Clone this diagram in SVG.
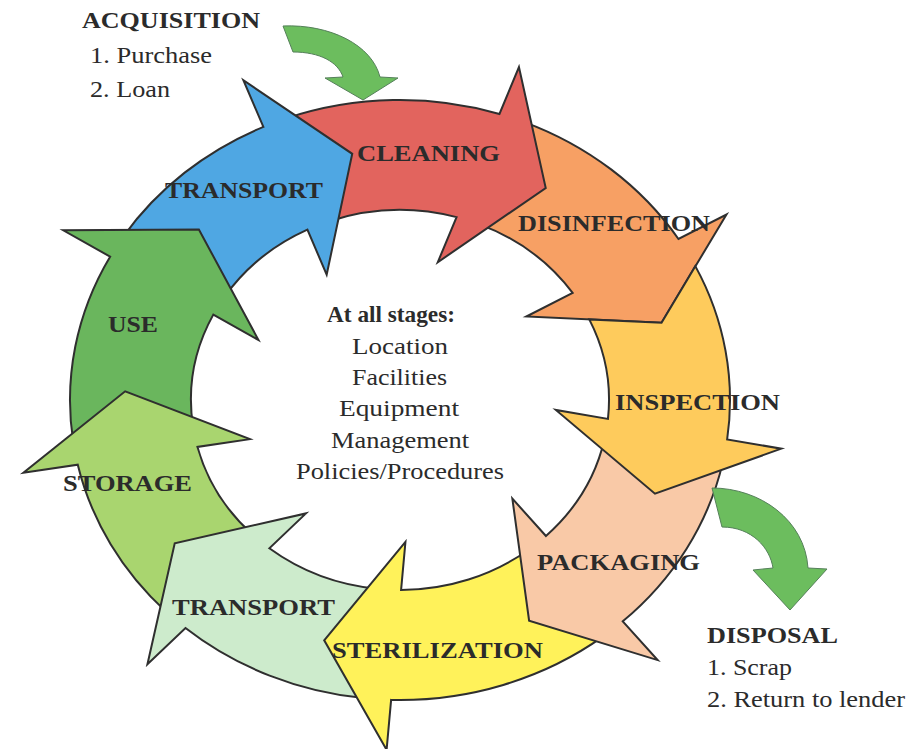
<svg xmlns="http://www.w3.org/2000/svg" width="910" height="749" viewBox="0 0 910 749">
  <style>
    .seg { stroke: #2f2f2f; stroke-width: 2; stroke-linejoin: miter; stroke-miterlimit: 10; vector-effect: non-scaling-stroke; }
    .lbl { font-family: "Liberation Serif", "Times New Roman", serif; font-weight: bold; font-size: 24px; fill: #2b2b2b; }
    .txt { font-family: "Liberation Serif", "Times New Roman", serif; font-size: 24px; fill: #2b2b2b; }
    .flow { fill: #6cbd5e; stroke: #55805a; stroke-width: 1; }
  </style>
  <rect width="910" height="749" fill="#ffffff"/>

  <!-- Ring of stage arrows: each path is drawn in a local polar frame whose tip sits at angle 0,
       then rotated into place; the whole ring is stretched 1.1x horizontally. -->
  <g id="disinfection">
    <path class="seg" fill="#f7a064" transform="translate(400 400) scale(1.1 1) rotate(342)"
      d="M192.84,-229.81 A300,300 0 0 1 290.5,-74.9 L339.6,-84.7 L250,0 L135.05,-43.88 L182.36,-53.32 A190,190 0 0 0 122.13,-145.55 Z"/>
    <text class="lbl" x="518" y="231" textLength="192" lengthAdjust="spacingAndGlyphs">DISINFECTION</text>
  </g>
  <g id="cleaning">
    <path class="seg" fill="#e2645e" transform="translate(400 400) scale(1.1 1) rotate(302)"
      d="M184.70,-236.40 A300,300 0 0 1 290.5,-74.9 L339.6,-84.7 L250,0 L135.05,-43.88 L182.36,-53.32 A190,190 0 0 0 116.98,-149.72 Z"/>
    <text class="lbl" x="357" y="161" textLength="143" lengthAdjust="spacingAndGlyphs">CLEANING</text>
  </g>
  <g id="transport-in">
    <path class="seg" fill="#4fa7e3" transform="translate(400 400) scale(1.1 1) rotate(260)"
      d="M204.60,-219.41 A300,300 0 0 1 290.5,-74.9 L339.6,-84.7 L250,0 L135.05,-43.88 L182.36,-53.32 A190,190 0 0 0 129.58,-138.96 Z"/>
    <text class="lbl" x="165" y="198" textLength="158" lengthAdjust="spacingAndGlyphs">TRANSPORT</text>
  </g>
  <g id="use">
    <path class="seg" fill="#6ab65d" transform="translate(400 400) scale(1.1 1) rotate(223)"
      d="M188.80,-233.15 A300,300 0 0 1 290.5,-74.9 L339.6,-84.7 L250,0 L135.05,-43.88 L182.36,-53.32 A190,190 0 0 0 119.57,-147.66 Z"/>
    <text class="lbl" x="108" y="332" textLength="50" lengthAdjust="spacingAndGlyphs">USE</text>
  </g>
  <g id="storage">
    <path class="seg" fill="#a9d56f" transform="translate(400 400) scale(1.1 1) rotate(182)"
      d="M204.60,-219.41 A300,300 0 0 1 290.5,-74.9 L339.6,-84.7 L250,0 L135.05,-43.88 L182.36,-53.32 A190,190 0 0 0 129.58,-138.96 Z"/>
    <text class="lbl" x="63" y="491" textLength="129" lengthAdjust="spacingAndGlyphs">STORAGE</text>
  </g>
  <g id="transport-out">
    <path class="seg" fill="#cdebcc" transform="translate(400 400) scale(1.1 1) rotate(145)"
      d="M196.82,-226.41 A300,300 0 0 1 290.5,-74.9 L339.6,-84.7 L250,0 L135.05,-43.88 L182.36,-53.32 A190,190 0 0 0 124.65,-143.39 Z"/>
    <text class="lbl" x="172" y="615" textLength="163" lengthAdjust="spacingAndGlyphs">TRANSPORT</text>
  </g>
  <g id="sterilization">
    <path class="seg" fill="#fff25a" transform="translate(400 400) scale(1.1 1) rotate(106)"
      d="M176.34,-242.71 A300,300 0 0 1 290.5,-74.9 L339.6,-84.7 L250,0 L135.05,-43.88 L182.36,-53.32 A190,190 0 0 0 111.68,-153.71 Z"/>
    <text class="lbl" x="332" y="658" textLength="211" lengthAdjust="spacingAndGlyphs">STERILIZATION</text>
  </g>
  <g id="packaging">
    <path class="seg" fill="#f9c9a7" transform="translate(400 400) scale(1.1 1) rotate(62)"
      d="M192.84,-229.81 A300,300 0 0 1 290.5,-74.9 L339.6,-84.7 L250,0 L135.05,-43.88 L182.36,-53.32 A190,190 0 0 0 122.13,-145.55 Z"/>
    <text class="lbl" x="537" y="570" textLength="163" lengthAdjust="spacingAndGlyphs">PACKAGING</text>
  </g>
  <g id="inspection">
    <path class="seg" fill="#fecb5c" transform="translate(400 400) scale(1.1 1) rotate(22)"
      d="M198.78,-224.69 A300,300 0 0 1 290.5,-74.9 L339.6,-84.7 L250,0 L135.05,-43.88 L182.36,-53.32 A190,190 0 0 0 129.34,-139.18 L191.51,-160.70 Z"/>
    <text class="lbl" x="615" y="410" textLength="165" lengthAdjust="spacingAndGlyphs">INSPECTION</text>
  </g>

  <!-- Entry and exit flows -->
  <g id="connectors">
    <path class="flow" d="M283,26 C330,24 372,45 380,77 L398,78 L363,100 L325,78 L343,77 C338,62 320,52 293,52 Z"/>
    <path class="flow" d="M712,488 C760,488 805,520 808,568 L827,569 L790,610 L753,570 L773,568 C770,548 752,527 722,527 Z"/>
  </g>

  <g id="acquisition">
    <text class="lbl" x="82" y="28" textLength="178" lengthAdjust="spacingAndGlyphs">ACQUISITION</text>
    <text class="txt" x="90" y="63" textLength="122" lengthAdjust="spacingAndGlyphs">1. Purchase</text>
    <text class="txt" x="90" y="97" textLength="80" lengthAdjust="spacingAndGlyphs">2. Loan</text>
  </g>

  <g id="disposal">
    <text class="lbl" x="707" y="643" textLength="131" lengthAdjust="spacingAndGlyphs">DISPOSAL</text>
    <text class="txt" x="707" y="675" textLength="85" lengthAdjust="spacingAndGlyphs">1. Scrap</text>
    <text class="txt" x="707" y="707" textLength="198" lengthAdjust="spacingAndGlyphs">2. Return to lender</text>
  </g>

  <g id="all-stages">
    <text class="lbl" x="327" y="322" textLength="128" lengthAdjust="spacingAndGlyphs">At all stages:</text>
    <text class="txt" x="352" y="354" textLength="96" lengthAdjust="spacingAndGlyphs">Location</text>
    <text class="txt" x="352" y="385" textLength="95" lengthAdjust="spacingAndGlyphs">Facilities</text>
    <text class="txt" x="339" y="416" textLength="120" lengthAdjust="spacingAndGlyphs">Equipment</text>
    <text class="txt" x="331" y="448" textLength="138" lengthAdjust="spacingAndGlyphs">Management</text>
    <text class="txt" x="296" y="479" textLength="208" lengthAdjust="spacingAndGlyphs">Policies/Procedures</text>
  </g>
</svg>
